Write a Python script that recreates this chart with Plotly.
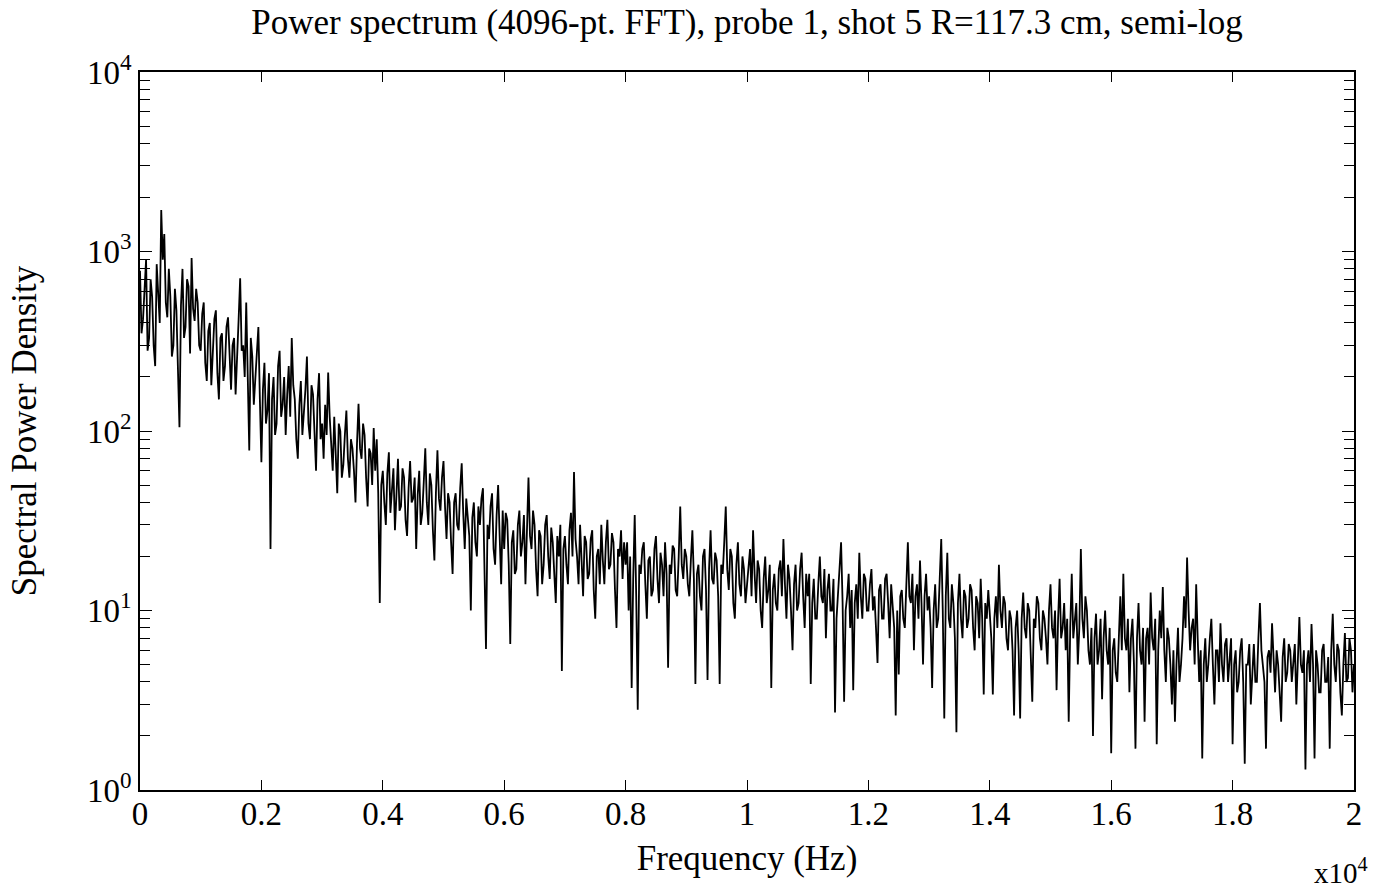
import numpy as np
import plotly.graph_objects as go

# Frequency bins (Hz), 25 Hz apart from 0 to 20 kHz
bin_width_hz = 25
n_bins = 801

# Spectral power density per bin, 40 bins per row (each row spans 1 kHz)
psd = [
    780, 350, 420, 650, 900, 280, 330, 700, 560, 300, 230, 850, 620, 400, 1700, 900, 1250, 520, 430, 800,
    560, 260, 300, 620, 470, 210, 105, 500, 800, 330, 380, 700, 640, 270, 920, 480, 410, 620, 520, 300,
    280, 450, 520, 240, 190, 360, 400, 180, 260, 420, 470, 210, 150, 330, 350, 190, 230, 380, 430, 250,
    170, 300, 330, 160, 240, 420, 710, 280, 300, 200, 520, 170, 78, 330, 260, 140, 200, 310, 380, 150,
    67, 170, 240, 110, 130, 210, 22, 150, 200, 95, 110, 230, 280, 120, 140, 200, 95, 160, 230, 120,
    330, 180, 150, 90, 70, 140, 190, 95, 120, 170, 260, 110, 90, 180, 160, 85, 60, 150, 210, 90,
    110, 70, 140, 95, 212, 120, 85, 60, 120, 80, 45, 110, 100, 55, 65, 95, 130, 70, 55, 90,
    80, 60, 40, 85, 142, 80, 70, 110, 95, 55, 38, 80, 75, 50, 104, 60, 90, 45, 11, 50,
    60, 40, 30, 58, 76, 35, 45, 62, 28, 50, 70, 36, 38, 62, 55, 32, 26, 48, 68, 40,
    42, 55, 22, 44, 60, 30, 35, 52, 80, 40, 30, 58, 50, 28, 19, 45, 78, 42, 36, 55,
    68, 38, 25, 45, 40, 24, 16, 40, 45, 30, 28, 48, 66, 35, 22, 42, 34, 26, 10, 33,
    40, 24, 20, 38, 30, 42, 48, 20, 6.1, 30, 25, 38, 45, 22, 18, 34, 50, 26, 14, 36,
    22, 35, 32, 18, 6.5, 24, 28, 16, 17, 30, 36, 20, 24, 34, 14, 28, 55, 26, 22, 36,
    30, 17, 12, 28, 26, 14, 18, 30, 34, 20, 15, 29, 24, 16, 11, 26, 20, 30, 4.6, 22,
    26, 18, 14, 28, 35, 20, 59, 25, 20, 14, 30, 19, 12, 26, 24, 15, 16, 25, 28, 13,
    9, 20, 22, 14, 30, 19, 14, 24, 32, 17, 18, 27, 24, 13, 8, 22, 20, 28, 15, 24,
    18, 24, 10, 20, 3.7, 15, 34, 12, 2.8, 18, 16, 22, 24, 14, 9, 19, 20, 12, 13, 22,
    26, 15, 11, 21, 18, 12, 24, 16, 4.8, 18, 16, 23, 22, 13, 12, 20, 38, 18, 15, 22,
    20, 14, 12, 19, 28, 15, 3.9, 16, 18, 12, 10, 20, 22, 13, 4.1, 17, 28, 15, 14, 21,
    19, 12, 3.9, 18, 16, 24, 38, 17, 13, 22, 20, 11, 9, 18, 24, 14, 12, 20, 17, 11,
    14, 18, 22, 12, 28, 16, 11, 19, 17, 10, 8, 15, 20, 11, 13, 18, 3.7, 13, 16, 11,
    10, 17, 19, 12, 25, 14, 9, 18, 15, 10, 6, 14, 18, 10, 11, 17, 21, 12, 8, 16,
    12, 16, 3.9, 11, 15, 9, 9, 14, 20, 12, 11, 17, 7, 13, 16, 10, 10, 15, 2.7, 9,
    13, 16, 24, 11, 3.1, 10, 12, 16, 8, 13, 3.6, 11, 14, 9, 21, 12, 9, 16, 15, 10,
    10, 14, 17, 10, 12, 8, 5.1, 13, 14, 9, 9, 15, 16, 11, 7, 14, 11, 8, 2.6, 10,
    4.4, 12, 13, 9, 8, 15, 24, 12, 11, 16, 6, 12, 14, 9, 19, 11, 5, 12, 16, 10,
    12, 8, 3.7, 10, 14, 8, 9, 15, 25, 10, 2.5, 12, 21, 9, 8, 14, 11, 7, 2.1, 11,
    16, 9, 7, 13, 12, 8, 9, 14, 13, 8, 6, 12, 11, 7, 15, 9, 3.4, 11, 9, 13,
    10, 7, 3.4, 9, 12, 8, 18, 10, 8, 12, 11, 7, 6, 10, 9, 6, 2.6, 8, 10, 6,
    2.5, 9, 12.6, 8, 7, 11, 10, 6, 3.1, 9, 8, 12, 11, 7, 6, 10, 9, 7, 5, 10,
    14, 8, 7, 10, 3.6, 9, 15, 7, 8, 11, 6, 9, 2.4, 8, 16, 7, 9, 11, 5, 8,
    22, 9, 7, 12, 10, 6, 5, 8, 2.0, 7, 9.6, 5, 6, 9, 3.2, 7, 10, 6, 5, 8,
    1.6, 6, 7, 4.5, 4, 8, 12, 6, 16, 7, 6, 9, 3.5, 7, 9, 5, 1.7, 7, 11, 6,
    5, 8, 2.4, 7, 8, 5, 12.6, 7, 6, 9, 1.8, 6, 10, 7, 13.5, 6, 4, 8, 7, 5,
    3, 6, 2.4, 5, 8, 4, 5, 7, 12, 8, 19.7, 10, 6, 8, 9, 5, 14, 7, 4, 6,
    1.5, 5, 7, 4, 5, 7, 9, 5, 3, 6, 6, 4, 8.5, 5, 4, 6.5, 7, 4, 5.5, 7,
    1.8, 5, 6, 3.5, 4, 6, 7, 4, 1.4, 5, 5, 6.5, 3, 5, 6.5, 4, 4, 7, 11, 6,
    5, 4, 1.7, 5.5, 6, 4.5, 8.5, 5, 3.5, 6, 5, 3.5, 2.4, 5.5, 7, 4, 4.5, 6.5, 6, 4,
    5, 6.5, 3, 5, 9.2, 5, 4.5, 6, 1.3, 5, 6, 4, 8.4, 5, 1.5, 6, 5, 3.5, 3.5, 6,
    6.5, 4, 4, 5.5, 1.7, 6, 9.6, 5, 4, 6.5, 6, 3.5, 2.6, 5, 7.5, 4, 4.2, 7, 6, 3.5,
    5,
]

freq_hz = np.arange(n_bins) * bin_width_hz

x_tickvals = [0, 2000, 4000, 6000, 8000, 10000, 12000, 14000, 16000, 18000, 20000]
x_ticktext = ["0", "0.2", "0.4", "0.6", "0.8", "1", "1.2", "1.4", "1.6", "1.8", "2"]
y_tickvals = [1, 10, 100, 1000, 10000]
y_ticktext = ["10<sup>0</sup>", "10<sup>1</sup>", "10<sup>2</sup>", "10<sup>3</sup>", "10<sup>4</sup>"]
y_minor = [m * d for d in (1, 10, 100, 1000) for m in range(2, 10)]

FONT = "Liberation Serif"

fig = go.Figure()
fig.add_trace(go.Scatter(
    x=freq_hz, y=psd, mode="lines",
    line=dict(color="black", width=1.8),
    showlegend=False, hoverinfo="x+y",
))

fig.update_layout(
    width=1375, height=889,
    margin=dict(l=140, r=21, t=72, b=99),
    paper_bgcolor="white", plot_bgcolor="white",
    font=dict(family=FONT, color="black", size=32),
    title=dict(
        text="Power spectrum (4096-pt. FFT), probe 1, shot 5 R=117.3 cm, semi-log",
        xref="paper", x=0.5, xanchor="center", y=0.975, yanchor="middle",
        font=dict(family=FONT, size=35, color="black"),
    ),
    xaxis=dict(
        range=[0, 20000], tickmode="array", tickvals=x_tickvals, ticktext=x_ticktext,
        ticks="inside", ticklen=10, tickwidth=1.2, tickcolor="black",
        showline=True, linecolor="black", linewidth=1.5, mirror="ticks",
        showgrid=False, zeroline=False,
        tickfont=dict(family=FONT, size=33),
        ticklabelstandoff=-6,
        title=dict(text="Frequency (Hz)", font=dict(family=FONT, size=35), standoff=14),
    ),
    yaxis=dict(
        type="log", range=[0, 4], tickmode="array", tickvals=y_tickvals, ticktext=y_ticktext,
        ticks="inside", ticklen=12, tickwidth=1.2, tickcolor="black",
        showline=True, linecolor="black", linewidth=1.5, mirror="ticks",
        showgrid=False, zeroline=False,
        tickfont=dict(family=FONT, size=33),
        minor=dict(tickmode="array", tickvals=y_minor, ticks="inside", ticklen=10,
                   tickwidth=1.2, tickcolor="black", showgrid=False),
        title=dict(text="Spectral Power Density", font=dict(family=FONT, size=35), standoff=40),
    ),
)

fig.add_annotation(
    text="x10<sup>4</sup>", xref="paper", yref="paper", x=1.0, y=-0.113,
    xanchor="right", yanchor="middle", showarrow=False,
    font=dict(family=FONT, size=29, color="black"), xshift=16,
)

fig.write_html("out.html")
